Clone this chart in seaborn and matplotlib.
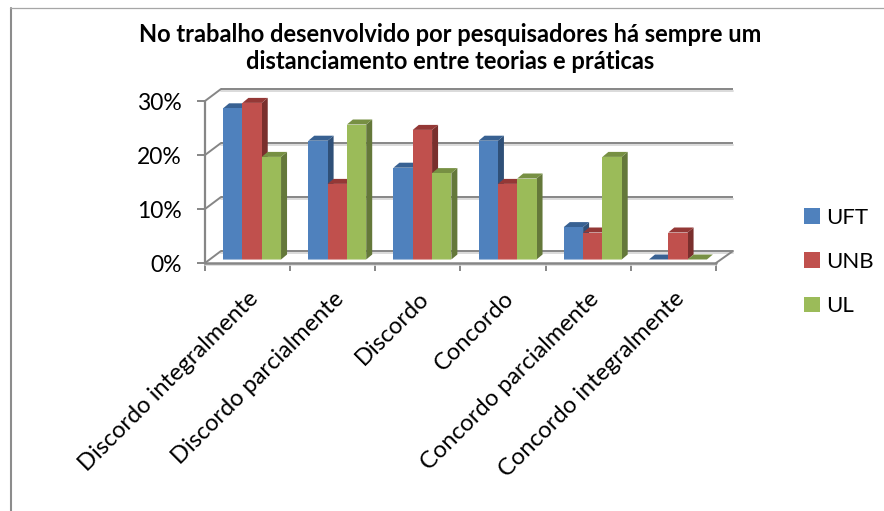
import matplotlib
matplotlib.use("Agg")
import matplotlib.pyplot as plt
import seaborn as sns
import pandas as pd
from matplotlib.lines import Line2D
from matplotlib.patches import Polygon
from matplotlib.transforms import Affine2D

categories = ["Discordo integralmente", "Discordo parcialmente", "Discordo",
              "Concordo", "Concordo parcialmente", "Concordo integralmente"]
uft = [28, 22, 17, 22, 6, 0]
unb = [29, 14, 24, 14, 5, 5]
ul = [19, 25, 16, 15, 19, 0]
series = ["UFT", "UNB", "UL"]
yticks = [0, 10, 20, 30]
title = "No trabalho desenvolvido por pesquisadores há sempre um\ndistanciamento entre teorias e práticas"

front = ["#4F81BD", "#C0504D", "#9BBB59"]
side = ["#2F5078", "#7A2F2D", "#64783A"]
top = ["#386192", "#943836", "#779043"]
grid_col = "#868686"

df = pd.DataFrame({"cat": categories * 3,
                   "val": uft + unb + ul,
                   "uni": [s for s in series for _ in categories]})

sns.set_style("white")
plt.rcParams["font.family"] = ["Lato", "DejaVu Sans"]

W, H = 884, 511
fig = plt.figure(figsize=(W / 100, H / 100), dpi=100)
# axes = front plane of the fake 3d box
ax = fig.add_axes([205 / W, (H - 263) / H, (716 - 205) / W, (263 - 101) / H])
sns.barplot(data=df, x="cat", y="val", hue="uni", palette=front, saturation=1,
            width=0.68, gap=0, dodge=True, ax=ax, zorder=5, linewidth=0, edgecolor="none")
ax.set_xlim(-0.5, 5.5)
ax.set_ylim(0, 30)
ax.patch.set_alpha(0)
sns.despine(ax=ax, left=True, bottom=True, top=True, right=True)

px_x = (716 - 205) / 6
px_y = (263 - 101) / 30


def xd(p):
    return p / px_x


def yd(p):
    return p / px_y


# walls and gridlines
for v in yticks:
    ax.plot([-0.5 + xd(16), 5.5 + xd(17)], [v + yd(12)] * 2, color="#DADADA", lw=1.4,
            clip_on=False, zorder=1, transform=ax.transData + Affine2D().translate(0, -1.6))
    ax.plot([-0.5 + xd(16), 5.5 + xd(17)], [v + yd(12)] * 2, color=grid_col, lw=1.4,
            clip_on=False, zorder=2, solid_capstyle="butt")
    ax.plot([-0.5, -0.5 + xd(16)], [v, v + yd(12)], color=grid_col, lw=1.4, clip_on=False, zorder=2)
ax.plot([-0.5, -0.5], [0, 30], color=grid_col, lw=1.6, clip_on=False, zorder=2)
ax.plot([-0.5, 5.5], [0, 0], color=grid_col, lw=1.8, clip_on=False, zorder=3)
ax.plot([-0.5, 5.5], [0, 0], color="#DADADA", lw=1.2, clip_on=False, zorder=2,
        transform=ax.transData + Affine2D().translate(0, -2))
ax.plot([5.5, 5.5 + xd(17)], [0, yd(12)], color=grid_col, lw=1.4, clip_on=False, zorder=3)

# bars sit a little behind the front plane, with side and top faces
shift = Affine2D().translate(4.5, 3.5)
trans = ax.transData + shift
bars = sorted(ax.patches, key=lambda b: b.get_x())
depth_x, depth_y = xd(6), yd(5)
z = 5
for bar in bars:
    i = front.index(matplotlib.colors.to_hex(bar.get_facecolor()).upper())
    x0, x1 = bar.get_x(), bar.get_x() + bar.get_width()
    h = bar.get_height()
    side_face = Polygon([(x1, 0), (x1 + depth_x, depth_y), (x1 + depth_x, h + depth_y), (x1, h)],
                        fc=side[i], ec="none", clip_on=False, transform=trans, zorder=z)
    top_face = Polygon([(x0, h), (x0 + depth_x, h + depth_y), (x1 + depth_x, h + depth_y), (x1, h)],
                       fc=top[i], ec="none", clip_on=False, transform=trans, zorder=z)
    ax.add_patch(side_face)
    ax.add_patch(top_face)
    bar.set_transform(trans)
    bar.set_clip_on(False)
    bar.set_zorder(z + 0.5)
    if h > 0:
        ax.plot([x0, x1], [0, 0], color=matplotlib.colors.to_rgba("white", 0.45), lw=1.5,
                transform=trans, clip_on=False, zorder=z + 0.6, solid_capstyle="butt")
    z += 1

# ticks
ax.set_yticks(yticks)
ax.set_yticklabels([f"{v}%" for v in yticks], fontsize=16.5, color="black")
ax.set_xticks(range(len(categories)))
ax.set_xticklabels(categories, rotation=45, ha="right", rotation_mode="anchor",
                   fontsize=17, color="black")
ax.set_xticks([i - 0.5 for i in range(len(categories) + 1)], minor=True)
ax.tick_params(axis="x", which="major", length=0, pad=18)
ax.tick_params(axis="x", which="minor", length=6, width=1.4, color=grid_col, bottom=True)
ax.tick_params(axis="y", length=6, width=1.4, color=grid_col, left=True, pad=11)
ax.set_xlabel("")
ax.set_ylabel("")

# legend
handles, labels = ax.get_legend_handles_labels()
ax.get_legend().remove()
fig.legend(handles, labels, loc="center left", bbox_to_anchor=(784 / W, (H - 262) / H),
           frameon=False, fontsize=16, handlelength=0.7, handleheight=0.7,
           handletextpad=0.3, labelspacing=1.1, labelcolor="black")

fig.text(450 / W, (H - 48) / H, title, ha="center", va="center", fontsize=17,
         fontweight="bold", color="black", linespacing=1.22)

# chart area border
fig.add_artist(Line2D([11 / W, 11 / W], [0, (H - 8) / H], color="#8C8C8C", lw=1.5))
fig.add_artist(Line2D([10 / W, 1], [(H - 8) / H] * 2, color="#A6A6A6", lw=0.9))

fig.savefig("out.png", dpi=100)
